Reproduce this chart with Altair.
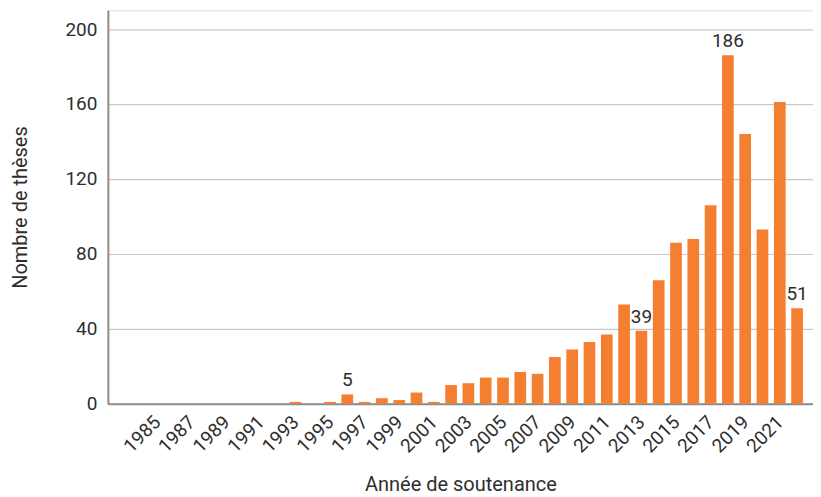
import altair as alt
import pandas as pd

years = list(range(1985, 2023))
counts = [0, 0, 0, 0, 0, 0, 0, 0, 1, 0, 1, 5, 1, 3, 2, 6, 1,
          10, 11, 14, 14, 17, 16, 25, 29, 33, 37, 53, 39, 66, 86, 88, 106,
          186, 144, 93, 161, 51]
label_years = [1996, 2013, 2018, 2022]
tick_years = list(range(1985, 2022, 2))
y_ticks = [0, 40, 80, 120, 160, 200]

df = pd.DataFrame({"annee": years, "n": counts})
df_lab = df[df["annee"].isin(label_years)]

FONT = "Roboto"
ORANGE = "#f47f31"
TXT = "#2e2e2e"

x = alt.X(
    "annee:Q",
    scale=alt.Scale(domain=[1982.16, 2022.92], nice=False, zero=False, padding=0),
    axis=alt.Axis(
        values=tick_years,
        format="d",
        labelAngle=-45,
        labelAlign="right",
        labelBaseline="middle",
        labelPadding=15,
        labelFontSize=19,
        labelColor=TXT,
        labelFont=FONT,
        labelOverlap=False,
        labelBound=False,
        ticks=False,
        grid=False,
        domainColor="#8c8c8c",
        domainWidth=2,
        title="Année de soutenance",
        titleFont=FONT,
        titleFontSize=20,
        titleFontWeight="normal",
        titleColor=TXT,
        titlePadding=19,
    ),
)

y = alt.Y(
    "n:Q",
    scale=alt.Scale(domain=[0, 210], nice=False),
    axis=alt.Axis(
        values=y_ticks,
        labelPadding=11,
        labelFontSize=19,
        labelColor=TXT,
        labelFont=FONT,
        ticks=False,
        gridColor="#c8c8cc",
        gridWidth=1.2,
        domainColor="#8c8c8c",
        domainWidth=2,
        title="Nombre de thèses",
        titleFont=FONT,
        titleFontSize=20,
        titleFontWeight="normal",
        titleColor=TXT,
        titlePadding=34,
    ),
)

bars = alt.Chart(df).mark_bar(color=ORANGE, size=11.7).encode(x=x, y=y)

labels = alt.Chart(df_lab).mark_text(
    font=FONT, fontSize=19, color=TXT, baseline="alphabetic", dy=-8
).encode(x=x, y=y, text=alt.Text("n:Q"))

chart = (
    alt.layer(bars, labels)
    .properties(width=706, height=394, padding={"left": 2, "top": 2, "right": 0, "bottom": 0})
    .configure_view(stroke=None)
    .configure_axis(labelOverlap=False)
    .configure(background="white")
)

chart.save("out.html", embed_options={"renderer": "svg", "actions": False})
